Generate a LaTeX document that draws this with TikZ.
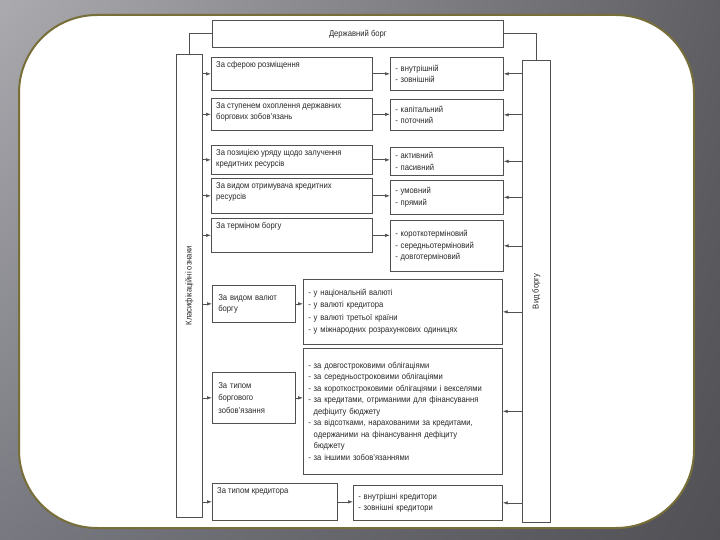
\documentclass[tikz,border=0pt]{standalone}
\usepackage{fontspec}
\setmainfont{Liberation Sans}[FakeStretch=0.9]
\usetikzlibrary{arrows.meta,positioning,shadings}
\definecolor{ScanLine}{RGB}{80,80,80}
\definecolor{ScanText}{RGB}{40,40,40}
\definecolor{FrameOlive}{RGB}{120,110,55}
\definecolor{BgLight}{RGB}{170,170,175}
\definecolor{BgLeft}{RGB}{120,120,128}
\definecolor{BgRight}{RGB}{95,95,100}
\definecolor{BgDark}{RGB}{80,80,85}
\tikzset{
  cell/.style={draw=ScanLine,line width=0.7pt,anchor=north west,inner sep=0pt,text=ScanText},
  lbl/.style={anchor=north west,align=left,inner xsep=5pt,inner ysep=4pt,text=ScanText},
  sbox/.style={cell,label={[lbl]north west:{#1}}},
  vbox/.style={cell,align=left,inner xsep=5pt},
  side/.style={cell,label={[rotate=90,text=ScanText]center:{#1}}},
  arr/.style={-{Latex[length=5pt,width=3.5pt]},draw=ScanLine,line width=0.7pt},
  wire/.style={draw=ScanLine,line width=0.7pt},
}

\begin{document}
\begin{tikzpicture}[x=1pt,y=-1pt,font=\fontsize{8.5}{11.5}\selectfont]
    \shade[upper left=BgLight,upper right=BgRight,lower left=BgLeft,lower right=BgDark] (0,0) rectangle (720,540);
    \draw[FrameOlive,line width=2pt,fill=white,rounded corners=78pt] (19,15) rectangle (694,528);
    \node[cell,minimum width=291pt,minimum height=27pt] (debt) at (212,20) {Державний борг};
    \node[side={Класифікаційні ознаки},minimum width=26pt,minimum height=463pt] (clsf) at (176,54) {};
    \node[side={Вид боргу},minimum width=28pt,minimum height=462pt] (kind) at (522,60) {};
    \draw[wire] (debt.west) -| (clsf.north);
    \draw[wire] (debt.east) -| (kind.north);
    % ознаки
    \node[sbox={За сферою розміщення},minimum width=161pt,minimum height=33pt] (s1) at (211,57) {};
    \node[sbox={За ступенем охоплення державних\\боргових зобов'язань},minimum width=161pt,minimum height=32pt] (s2) at (211,98) {};
    \node[sbox={За позицією уряду щодо залучення\\кредитних ресурсів},minimum width=161pt,minimum height=29pt] (s3) at (211,145) {};
    \node[sbox={За видом отримувача кредитних\\ресурсів},minimum width=161pt,minimum height=35pt] (s4) at (211,178) {};
    \node[sbox={За терміном боргу},minimum width=161pt,minimum height=34pt] (s5) at (211,218) {};
    \node[vbox,inner xsep=6pt,text width=71pt,minimum height=37pt] (s6) at (212,285) {За видом валют\\боргу};
    \node[vbox,inner xsep=6pt,text width=71pt,minimum height=51pt,font=\fontsize{8.5}{12.5}\selectfont] (s7) at (212,372) {За типом\\боргового\\зобов'язання};
    \node[sbox={За типом кредитора},minimum width=125pt,minimum height=37pt] (s8) at (212,483) {};
    % види
    \node[vbox,text width=103pt,minimum height=33pt] (v1) at (390,57) {- внутрішній\\- зовнішній};
    \node[vbox,text width=103pt,minimum height=31pt] (v2) at (390,99) {- капітальний\\- поточний};
    \node[vbox,text width=103pt,minimum height=28pt] (v3) at (390,147) {- активний\\- пасивний};
    \node[vbox,text width=103pt,minimum height=34pt] (v4) at (390,180) {- умовний\\- прямий};
    \node[vbox,text width=103pt,minimum height=51pt] (v5) at (390,220) {- короткотерміновий\\- середньотерміновий\\- довготерміновий};
    \node[vbox,text width=189pt,minimum height=65pt,font=\fontsize{8.5}{12.5}\selectfont] (v6) at (303,279) {- у національній валюті\\- у валюті кредитора\\- у валюті третьої країни\\- у міжнародних розрахункових одиницях};
    \node[vbox,text width=189pt,minimum height=126pt] (v7) at (303,348) {- за довгостроковими облігаціями\\- за середньостроковими облігаціями\\- за короткостроковими облігаціями і векселями\\- за кредитами, отриманими для фінансування\\\phantom{- }дефіциту бюджету\\- за відсотками, нарахованими за кредитами,\\\phantom{- }одержаними на фінансування дефіциту\\\phantom{- }бюджету\\- за іншими зобов'язаннями};
    \node[vbox,text width=139pt,minimum height=35pt] (v8) at (353,485) {- внутрішні кредитори\\- зовнішні кредитори};
    \foreach \i in {1,...,8} {
      \draw[arr] (clsf.east |- s\i.west) -- (s\i.west);
      \draw[arr] (s\i.east) -- (s\i.east -| v\i.west);
      \draw[arr] (kind.west |- v\i.east) -- (v\i.east);
    }
\end{tikzpicture}
\end{document}
